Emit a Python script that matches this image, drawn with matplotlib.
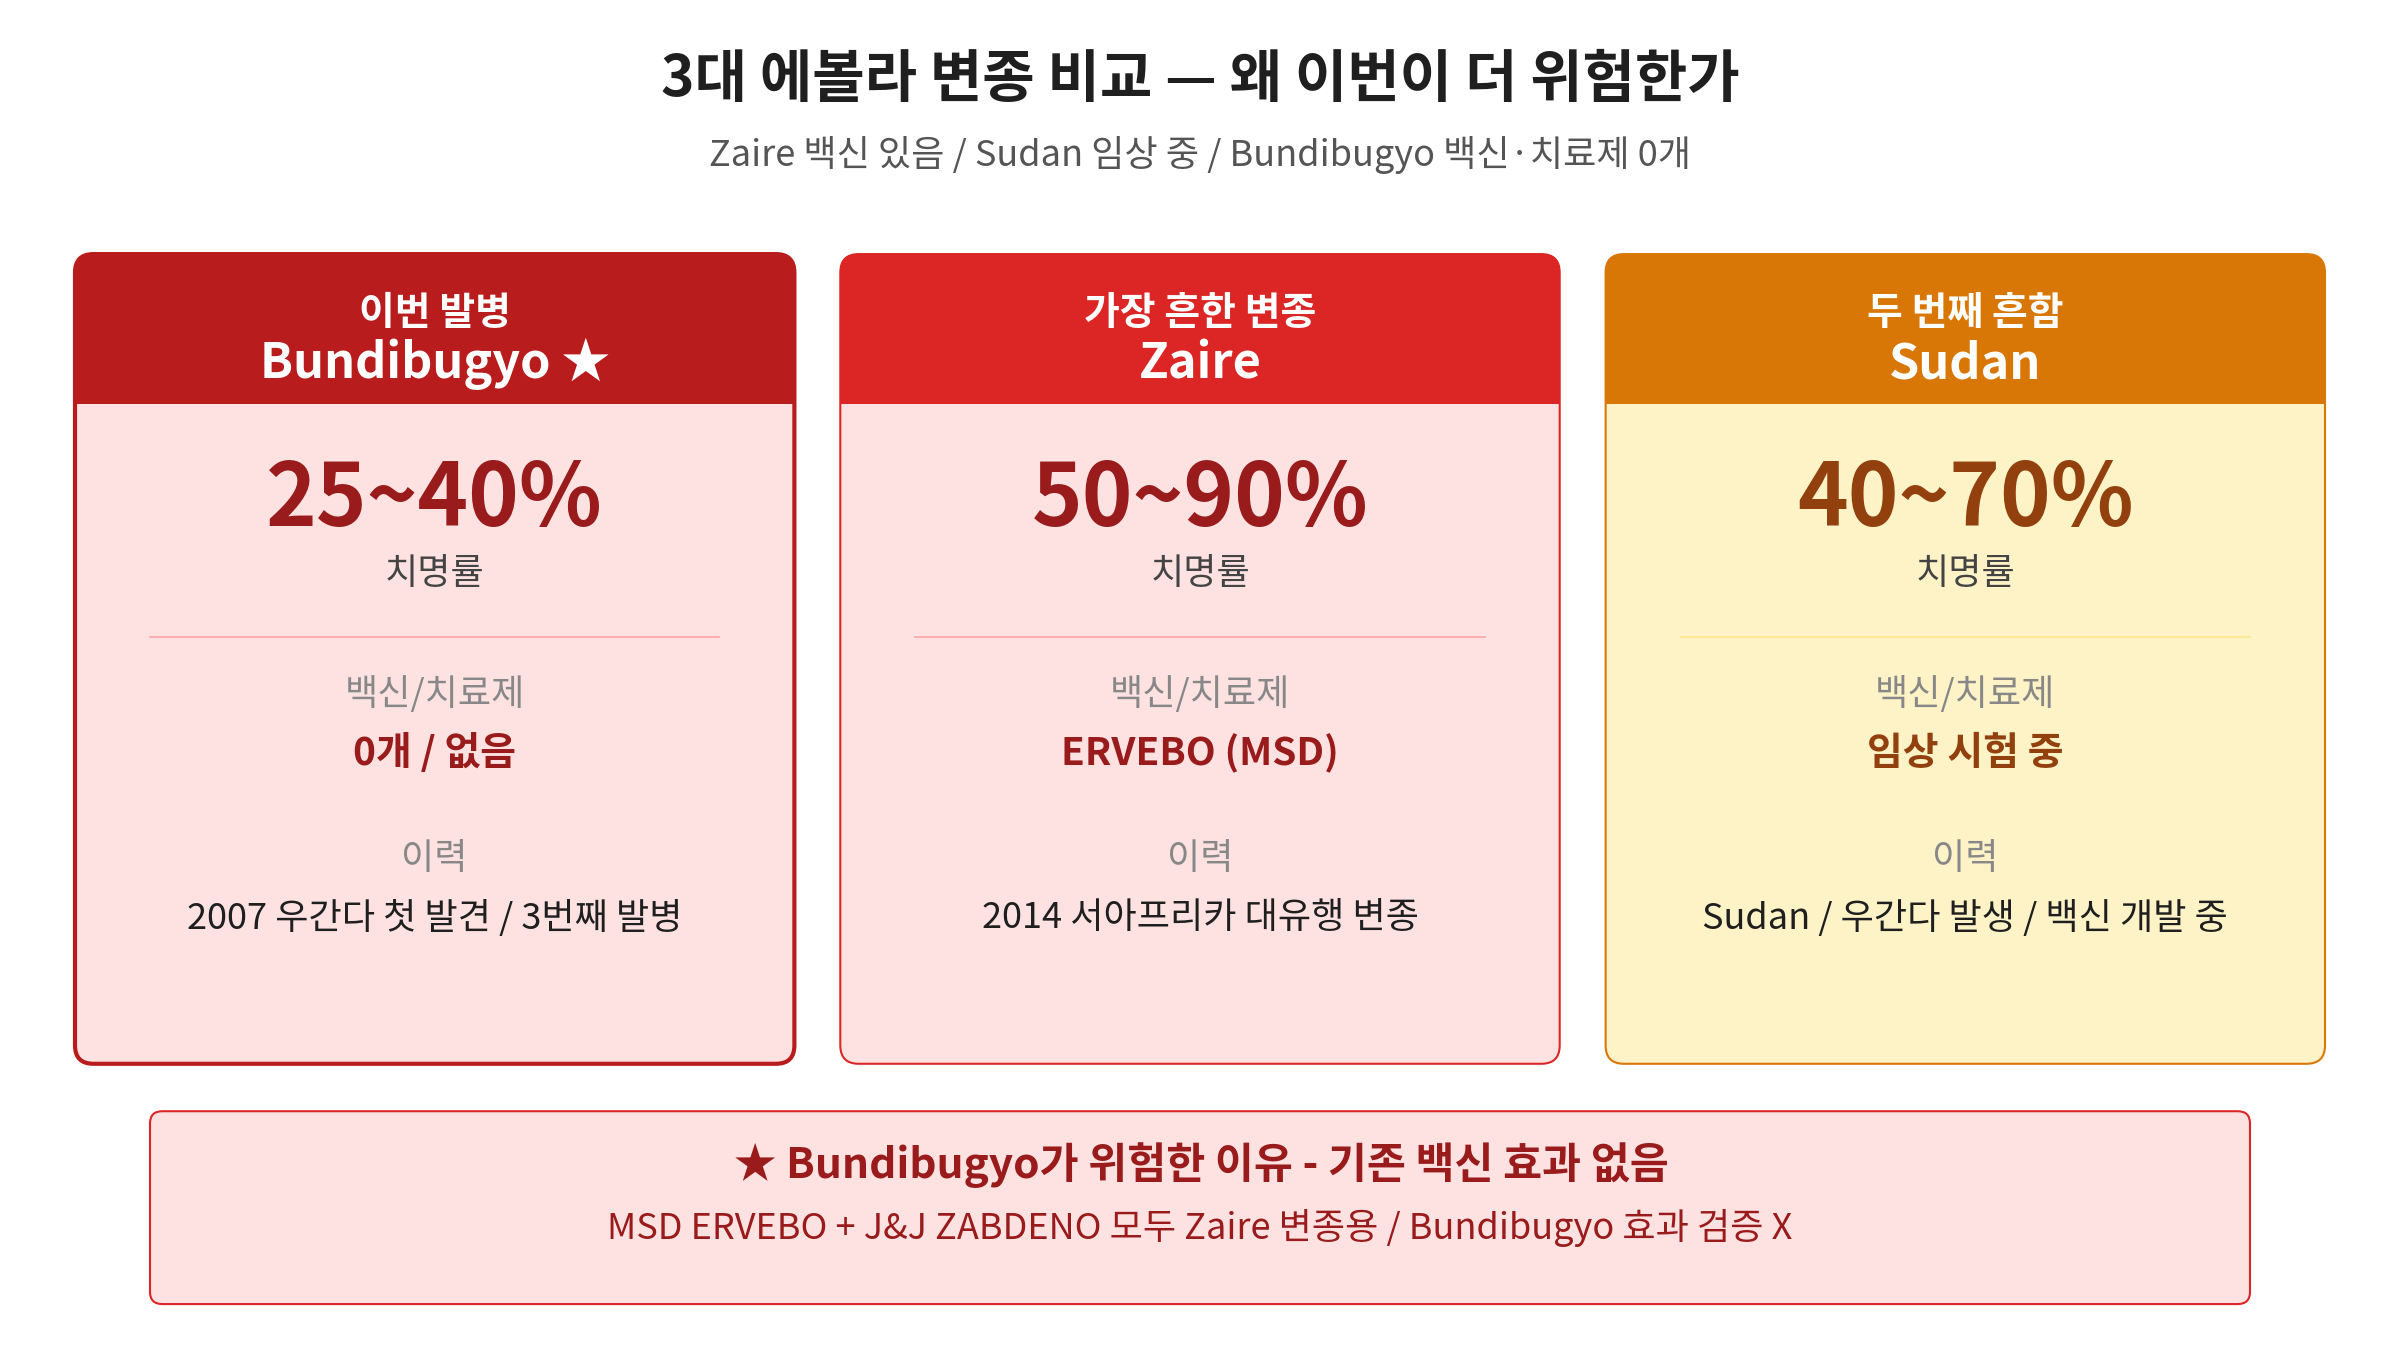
import matplotlib
matplotlib.use("Agg")
import matplotlib.pyplot as plt
from matplotlib.patches import FancyBboxPatch, Rectangle

plt.rcParams['font.family'] = ['Noto Sans CJK KR', 'DejaVu Sans']

title = "3대 에볼라 변종 비교 — 왜 이번이 더 위험한가"
subtitle = "Zaire 백신 있음 / Sudan 임상 중 / Bundibugyo 백신·치료제 0개"
tags = ["이번 발병", "가장 흔한 변종", "두 번째 흔함"]
names = ["Bundibugyo ★", "Zaire", "Sudan"]
rates = ["25~40%", "50~90%", "40~70%"]
vaccines = ["0개 / 없음", "ERVEBO (MSD)", "임상 시험 중"]
histories = ["2007 우간다 첫 발견 / 3번째 발병", "2014 서아프리카 대유행 변종", "Sudan / 우간다 발생 / 백신 개발 중"]
note_title = "★ Bundibugyo가 위험한 이유 - 기존 백신 효과 없음"
note_sub = "MSD ERVEBO + J&J ZABDENO 모두 Zaire 변종용 / Bundibugyo 효과 검증 X"

head_c = ["#B91C1C", "#DC2626", "#D97706"]
body_c = ["#FEE2E2", "#FEE2E2", "#FEF3C7"]
val_c = ["#991B1B", "#991B1B", "#92400E"]
border_w = [3, 1.5, 1.5]
div_c = ["#FCA5A5", "#FCA5A5", "#FDE68A"]

W, H = 1568, 882
fig = plt.figure(figsize=(24, 13.5), dpi=100)
ax = fig.add_axes([0, 0, 1, 1])
ax.set_xlim(0, W); ax.set_ylim(H, 0); ax.axis('off')

ax.text(W/2, 52, title, ha='center', va='center', fontsize=41, fontweight='bold', color='#1F1F1F')
ax.text(W/2, 101, subtitle, ha='center', va='center', fontsize=26, color='#555555')

xs = [49, 549, 1049]
cw = 470
y0, y1, yh = 166, 695, 264
for i, x in enumerate(xs):
    ax.add_patch(FancyBboxPatch((x, y0), cw, y1-y0, boxstyle="round,pad=0,rounding_size=12",
                                fc=body_c[i], ec='none', zorder=1))
    ax.add_patch(FancyBboxPatch((x, y0), cw, 130, boxstyle="round,pad=0,rounding_size=12",
                                fc=head_c[i], ec='none', zorder=2))
    ax.add_patch(Rectangle((x, yh), cw, 40, fc=body_c[i], ec='none', zorder=3))
    ax.add_patch(FancyBboxPatch((x, y0), cw, y1-y0, boxstyle="round,pad=0,rounding_size=12",
                                fc='none', ec=head_c[i], lw=border_w[i], zorder=5))
    cx = x + cw/2
    ax.text(cx, 205, tags[i], ha='center', va='center', fontsize=28, fontweight='bold', color='white', zorder=6)
    ax.text(cx, 238, names[i], ha='center', va='center', fontsize=35, fontweight='bold', color='white', zorder=6)
    ax.text(cx, 327, rates[i], ha='center', va='center', fontsize=62, fontweight='bold', color=val_c[i], zorder=6)
    ax.text(cx, 375, "치명률", ha='center', va='center', fontsize=26, color='#444444', zorder=6)
    ax.plot([x+49, x+cw-49], [416, 416], color=div_c[i], lw=1.2, zorder=6)
    ax.text(cx, 454, "백신/치료제", ha='center', va='center', fontsize=26, color='#888888', zorder=6)
    ax.text(cx, 492, vaccines[i], ha='center', va='center', fontsize=28, fontweight='bold', color=val_c[i], zorder=6)
    ax.text(cx, 561, "이력", ha='center', va='center', fontsize=26, color='#888888', zorder=6)
    ax.text(cx, 600, histories[i], ha='center', va='center', fontsize=26, color='#1F1F1F', zorder=6)

ax.add_patch(FancyBboxPatch((98, 726), 1372, 126, boxstyle="round,pad=0,rounding_size=8",
                            fc="#FEE2E2", ec="#DC2626", lw=1.5, zorder=1))
ax.text(W/2 + 1, 761, note_title, ha='center', va='center', fontsize=30.5, fontweight='bold', color='#991B1B')
ax.text(W/2, 802, note_sub, ha='center', va='center', fontsize=26, color='#991B1B')

fig.savefig("out.png", dpi=100, facecolor='white')
